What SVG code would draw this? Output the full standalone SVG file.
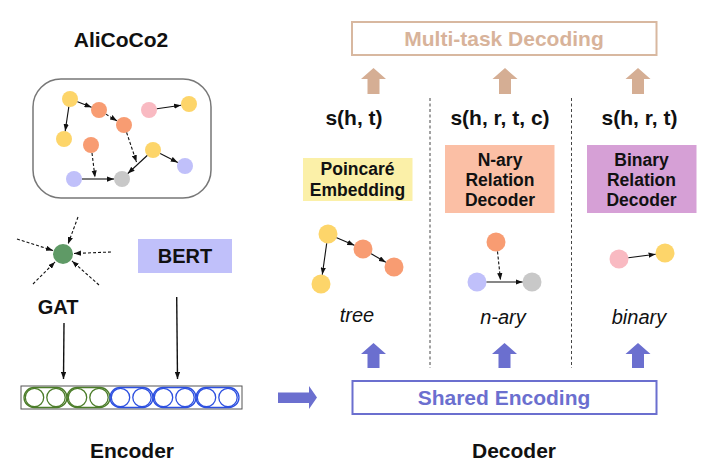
<svg xmlns="http://www.w3.org/2000/svg" width="712" height="476" viewBox="0 0 712 476">
<defs>
<marker id="ah" viewBox="0 0 8 6" markerWidth="7" markerHeight="5.5" refX="8" refY="3" orient="auto" markerUnits="userSpaceOnUse"><path d="M0,0 L8,3 L0,6 z" fill="#111"/></marker>
<style>
.t{font-family:"Liberation Sans",Arial,sans-serif;font-weight:bold;font-size:21px;fill:#111;text-anchor:middle}
.bl{font-family:"Liberation Sans",Arial,sans-serif;font-weight:bold;font-size:17.5px;fill:#111;text-anchor:middle}
.it{font-family:"Liberation Sans",Arial,sans-serif;font-style:italic;font-size:20px;fill:#111;text-anchor:middle}
.e{stroke:#111;stroke-width:1.1;fill:none;marker-end:url(#ah)}
.d{stroke-dasharray:3,2}
.y{fill:#fdd56a}.o{fill:#f89c72}.p{fill:#f9bac2}.b{fill:#c0c0fa}.g{fill:#c8c8c8}
.gp{fill:none;stroke:#4c7d2a;stroke-width:1.3}
.bp{fill:none;stroke:#2d50e0;stroke-width:1.3}
.ta{fill:#d5ae94}.ba{fill:#6b6fcf}
.div{stroke:#444;stroke-width:1;stroke-dasharray:3,2.5}
</style>
</defs>

<g id="alicoco2">
<text class="t" x="121" y="47">AliCoCo2</text>
<rect x="33" y="79" width="178" height="119" rx="28" fill="none" stroke="#777" stroke-width="1.5"/>
<circle class="y" cx="70" cy="99" r="8"/>
<circle class="o" cx="99" cy="110" r="8"/>
<circle class="o" cx="124" cy="125" r="8"/>
<circle class="y" cx="64" cy="139" r="8"/>
<circle class="o" cx="91" cy="145" r="8"/>
<circle class="p" cx="149" cy="110" r="8"/>
<circle class="y" cx="189" cy="104" r="8"/>
<circle class="y" cx="153" cy="150" r="8"/>
<circle class="b" cx="185" cy="166" r="8"/>
<circle class="b" cx="74" cy="179" r="8"/>
<circle class="g" cx="122" cy="179" r="8"/>
</g>

<g id="gat">
<circle cx="63" cy="254" r="10" fill="#5f9a66"/>
<text class="t" x="58" y="314" style="font-size:20px">GAT</text>
</g>

<g id="bert">
<rect x="138" y="239" width="94" height="34" fill="#c0c0fa"/>
<text class="t" x="185" y="263" style="font-size:20px">BERT</text>
</g>

<g id="encoder">
<rect x="21" y="386" width="221" height="23" fill="#fff" stroke="#555" stroke-width="1"/>
<rect class="gp" x="24" y="387.5" width="43" height="20" rx="10"/>
<circle class="gp" cx="34.5" cy="397.5" r="9.2"/><circle class="gp" cx="56" cy="397.5" r="9.2"/>
<rect class="gp" x="67" y="387.5" width="43" height="20" rx="10"/>
<circle class="gp" cx="77.5" cy="397.5" r="9.2"/><circle class="gp" cx="99" cy="397.5" r="9.2"/>
<rect class="bp" x="110" y="387.5" width="43" height="20" rx="10"/>
<circle class="bp" cx="120.5" cy="397.5" r="9.2"/><circle class="bp" cx="142" cy="397.5" r="9.2"/>
<rect class="bp" x="153" y="387.5" width="43" height="20" rx="10"/>
<circle class="bp" cx="163.5" cy="397.5" r="9.2"/><circle class="bp" cx="185" cy="397.5" r="9.2"/>
<rect class="bp" x="196" y="387.5" width="43" height="20" rx="10"/>
<circle class="bp" cx="206.5" cy="397.5" r="9.2"/><circle class="bp" cx="228" cy="397.5" r="9.2"/>
<text class="t" x="132" y="458">Encoder</text>
</g>

<g id="multitask">
<rect x="352" y="22" width="304.5" height="33" fill="none" stroke="#d8b8a0" stroke-width="2"/>
<text class="t" x="504" y="46" style="fill:#d8b39a">Multi-task Decoding</text>
</g>

<g id="scores">
<text class="t" x="354" y="125">s(h, t)</text>
<text class="t" x="500" y="125">s(h, r, t, c)</text>
<text class="t" x="639.5" y="125">s(h, r, t)</text>
</g>

<g id="poincare">
<rect x="303" y="158" width="109.5" height="43" fill="#fbf0a8"/>
<text class="bl" x="357.5" y="175">Poincaré</text>
<text class="bl" x="357.5" y="196">Embedding</text>
</g>

<g id="nary-decoder">
<rect x="445" y="145" width="109.5" height="68" fill="#fbbfa5"/>
<text class="bl" x="500" y="166">N-ary</text>
<text class="bl" x="500" y="186">Relation</text>
<text class="bl" x="500" y="206">Decoder</text>
</g>

<g id="binary-decoder">
<rect x="587" y="145" width="109.5" height="68" fill="#d6a0d6"/>
<text class="bl" x="641.5" y="166">Binary</text>
<text class="bl" x="641.5" y="186">Relation</text>
<text class="bl" x="641.5" y="206">Decoder</text>
</g>

<g id="tree">
<circle class="y" cx="328" cy="234" r="9.5"/>
<circle class="o" cx="363" cy="249" r="9.5"/>
<circle class="o" cx="394" cy="267" r="9.5"/>
<circle class="y" cx="321" cy="284" r="9.5"/>
<text class="it" x="357" y="322">tree</text>
</g>

<g id="nary">
<circle class="o" cx="496" cy="242" r="9.5"/>
<circle class="b" cx="477" cy="282" r="9.5"/>
<circle class="g" cx="532" cy="282" r="9.5"/>
<text class="it" x="503" y="324">n-ary</text>
</g>

<g id="binary">
<circle class="p" cx="619" cy="259" r="9.5"/>
<circle class="y" cx="665" cy="253" r="9.5"/>
<text class="it" x="639" y="324">binary</text>
</g>

<g id="shared">
<rect x="352.5" y="381" width="304" height="33" fill="none" stroke="#6b6fcf" stroke-width="2"/>
<text class="t" x="504" y="405" style="fill:#6b6fcf">Shared Encoding</text>
<text class="t" x="514" y="458">Decoder</text>
</g>

<g id="connectors">
<line class="e" x1="77.5" y1="101.8" x2="91.5" y2="107.2"/>
<line class="e" x1="68.8" y1="106.9" x2="65.2" y2="131.1"/>
<line class="e d" x1="105.9" y1="114.1" x2="117.1" y2="120.9"/>
<line class="e d" x1="126.6" y1="132.5" x2="136.5" y2="162"/>
<line class="e d" x1="92" y1="153" x2="95" y2="177.5"/>
<line class="e" x1="82" y1="179" x2="114" y2="179"/>
<line class="e" x1="147.2" y1="155.5" x2="127.8" y2="173.5"/>
<line class="e" x1="160.2" y1="153.6" x2="177.8" y2="162.4"/>
<line class="e" x1="156.9" y1="108.8" x2="181.1" y2="105.2"/>

<line class="e d" x1="78" y1="217" x2="68" y2="244"/>
<line class="e d" x1="17" y1="239" x2="53" y2="250.5"/>
<line class="e d" x1="111" y1="252" x2="74" y2="253.5"/>
<line class="e d" x1="33" y1="284" x2="55" y2="262"/>
<line class="e d" x1="99" y1="285" x2="72" y2="261"/>

<line class="e" x1="64" y1="323" x2="63.5" y2="379" style="stroke-width:1.4"/>
<line class="e" x1="176.7" y1="297" x2="177.5" y2="379" style="stroke-width:1.4"/>

<polygon class="ba" points="278,392.5 309,392.5 309,386 317,397.5 309,409 309,403 278,403"/>

<line class="e" x1="336.7" y1="237.7" x2="354.3" y2="245.3"/>
<line class="e" x1="371.2" y1="253.8" x2="385.8" y2="262.2"/>
<line class="e" x1="326.7" y1="243.4" x2="322.3" y2="274.6"/>
<line class="e d" x1="497.5" y1="251.5" x2="500.5" y2="280"/>
<line class="e" x1="486.5" y1="282" x2="522.5" y2="282"/>
<line class="e" x1="628.4" y1="257.8" x2="655.6" y2="254.2"/>

<line class="div" x1="430" y1="98" x2="430" y2="368"/>
<line class="div" x1="571.5" y1="98" x2="571.5" y2="368"/>

<polygon class="ta" points="373.5,68 386,79 379.5,79 379.5,94 367.5,94 367.5,79 361,79"/>
<polygon class="ta" points="505,68 517.5,79 511,79 511,94 499,94 499,79 492.5,79"/>
<polygon class="ta" points="638,68 650.5,79 644,79 644,94 632,94 632,79 625.5,79"/>

<polygon class="ba" points="373.5,343 386,354 379.5,354 379.5,368 367.5,368 367.5,354 361,354"/>
<polygon class="ba" points="504.5,343 517,354 510.5,354 510.5,368 498.5,368 498.5,354 492,354"/>
<polygon class="ba" points="638,343 650.5,354 644,354 644,368 632,368 632,354 625.5,354"/>
</g>
</svg>
